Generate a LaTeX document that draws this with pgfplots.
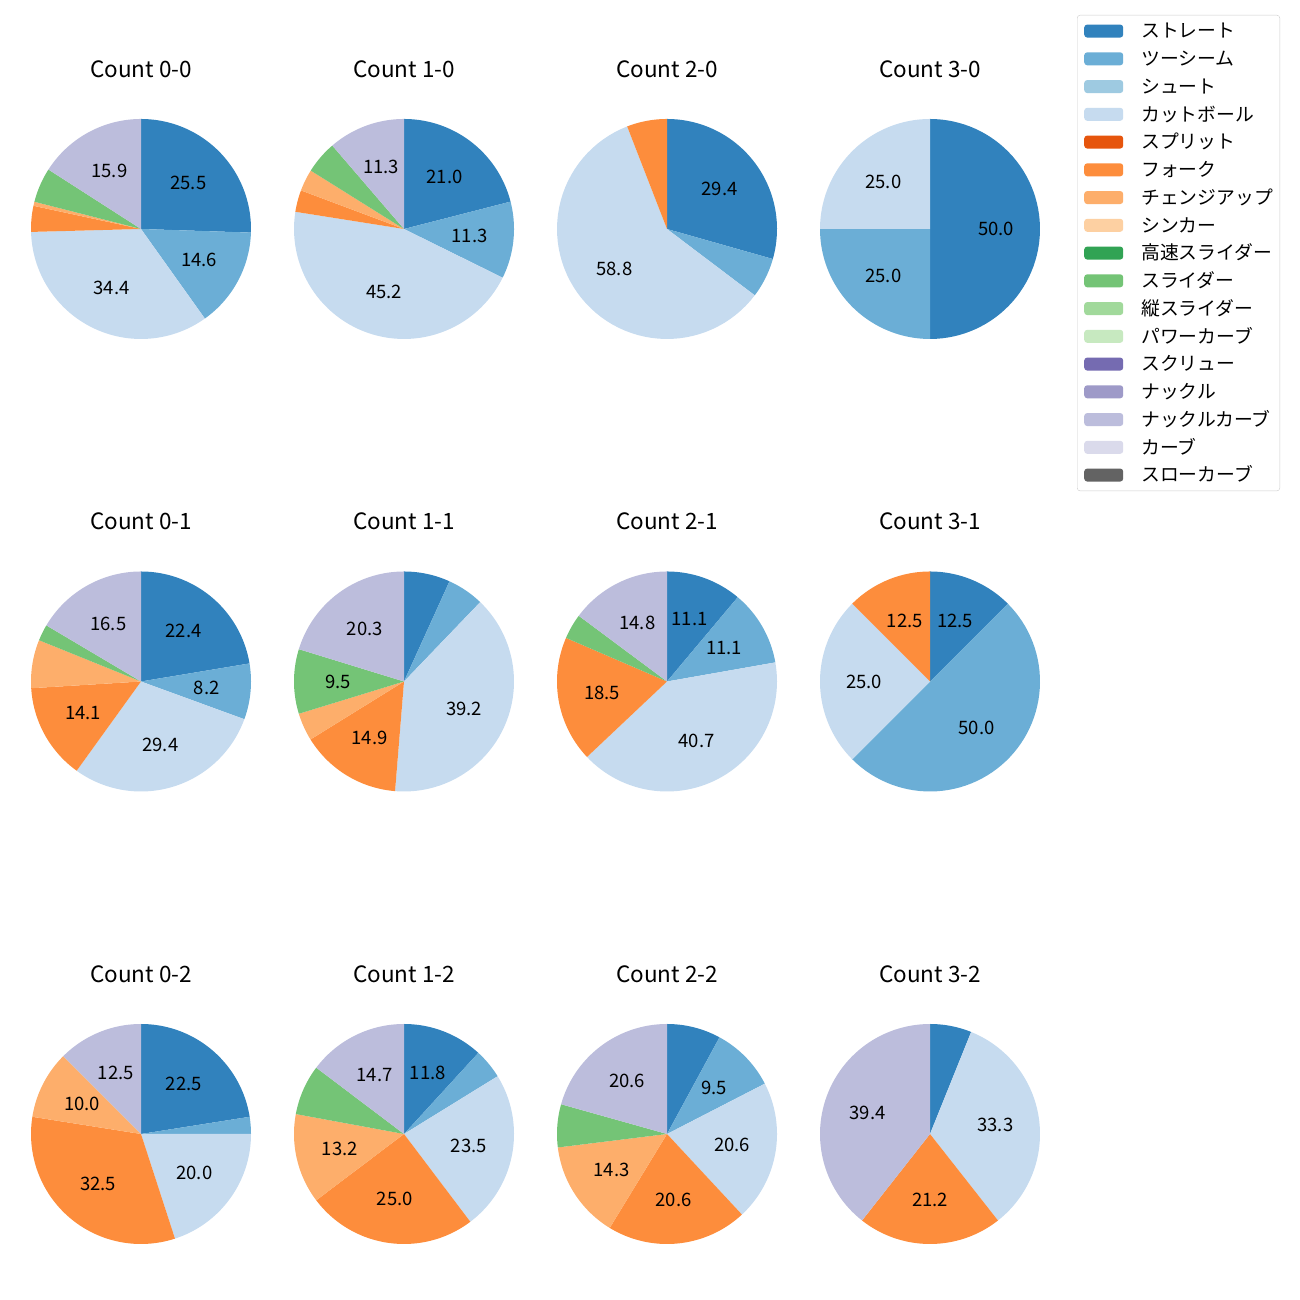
\documentclass[border=0pt]{standalone}
\usepackage{fontspec}
\setmainfont{Noto Sans CJK JP}
\usepackage{pgfplots}
\pgfplotsset{compat=1.18}

\definecolor{c1}{HTML}{3182BD}
\definecolor{c2}{HTML}{6BAED6}
\definecolor{c3}{HTML}{9ECAE1}
\definecolor{c4}{HTML}{C6DBEF}
\definecolor{c5}{HTML}{E6550D}
\definecolor{c6}{HTML}{FD8D3C}
\definecolor{c7}{HTML}{FDAE6B}
\definecolor{c8}{HTML}{FDD0A2}
\definecolor{c9}{HTML}{31A354}
\definecolor{c10}{HTML}{74C476}
\definecolor{c11}{HTML}{A1D99B}
\definecolor{c12}{HTML}{C7E9C0}
\definecolor{c13}{HTML}{756BB1}
\definecolor{c14}{HTML}{9E9AC8}
\definecolor{c15}{HTML}{BCBDDC}
\definecolor{c16}{HTML}{DADAEB}
\definecolor{c17}{HTML}{636363}

\newcommand\lblfont{\fontsize{18.5}{22}\selectfont}
\newcommand\titfont{\fontsize{22.5}{26}\selectfont}
\newcommand\legfont{\fontsize{18.8}{22}\selectfont}

\def\PIEsplit#1/#2\relax{\def\PIEc{#1}\def\PIEv{#2}}
% #1 = centre x, #2 = centre y (canvas px, y up), #3 = title, #4 = data
\newcommand\drawpie[4]{%
  \def\PIEtot{0}%
  \pgfplotsforeachungrouped \PIEitem in {#4}{%
    \expandafter\PIEsplit\PIEitem\relax
    \pgfmathsetmacro\PIEtot{\PIEtot+\PIEv}%
  }%
  \def\PIEcum{0}%
  \pgfplotsforeachungrouped \PIEitem in {#4}{%
    \expandafter\PIEsplit\PIEitem\relax
    \pgfmathsetmacro\PIEfa{(\PIEcum+\PIEv)/\PIEtot}%
    \pgfmathsetmacro\PIEfb{\PIEcum/\PIEtot}%
    \pgfmathsetmacro\PIEa{90-360*\PIEfa}%
    \pgfmathsetmacro\PIEb{90-360*\PIEfb}%
    \pgfmathsetmacro\PIEmid{(\PIEa+\PIEb)/2}%
    \pgfmathsetmacro\PIElx{#1+66*cos(\PIEmid)}%
    \pgfmathsetmacro\PIEly{#2+66*sin(\PIEmid)}%
    \edef\PIEcmd{\noexpand\addplot[fill=\PIEc,draw=none,samples=60,domain=\PIEa:\PIEb,variable=\noexpand\t] ({#1+110*cos(\noexpand\t)},{#2+110*sin(\noexpand\t)}) -- (axis cs:#1,#2) -- cycle;}%
    \PIEcmd
    \ifdim\PIEv pt<8pt\else
      \edef\PIEcmd{\noexpand\node[font=\noexpand\lblfont] at (axis cs:\PIElx,\PIEly) {\PIEv};}%
      \PIEcmd
    \fi
    \pgfmathsetmacro\PIEcum{\PIEcum+\PIEv}%
  }%
  \pgfmathsetmacro\PIEty{#2+160}%
  \edef\PIEcmd{\noexpand\node[font=\noexpand\titfont] at (axis cs:#1,\PIEty) {#3};}%
  \PIEcmd
}

\begin{document}
\begin{tikzpicture}
\begin{axis}[scale only axis, width=1300pt, height=1300pt,
  hide axis, clip=false, xmin=0, xmax=1300, ymin=0, ymax=1300,
  legend image code/.code={\path[draw=none,fill=none] (0pt,-13.875pt) rectangle (57pt,13.875pt);
     \fill[#1,draw=none] (0pt,-6.5pt) rectangle (39pt,6.5pt);},
  legend cell align=left,
  legend style={at={(0.82846,0.98846)}, anchor=north west, draw=black!20, rounded corners=3pt,
     fill=white, font=\legfont, inner xsep=7pt, inner ysep=2pt, row sep=0pt,
     cells={anchor=west},
     nodes={inner sep=0pt, text height=13.7pt, text depth=0pt}}]
\path[draw=none,fill=none] (axis cs:0,0) rectangle (axis cs:1300,1300);
\addlegendimage{fill=c1}\addlegendentry{ストレート}
\addlegendimage{fill=c2}\addlegendentry{ツーシーム}
\addlegendimage{fill=c3}\addlegendentry{シュート}
\addlegendimage{fill=c4}\addlegendentry{カットボール}
\addlegendimage{fill=c5}\addlegendentry{スプリット}
\addlegendimage{fill=c6}\addlegendentry{フォーク}
\addlegendimage{fill=c7}\addlegendentry{チェンジアップ}
\addlegendimage{fill=c8}\addlegendentry{シンカー}
\addlegendimage{fill=c9}\addlegendentry{高速スライダー}
\addlegendimage{fill=c10}\addlegendentry{スライダー}
\addlegendimage{fill=c11}\addlegendentry{縦スライダー}
\addlegendimage{fill=c12}\addlegendentry{パワーカーブ}
\addlegendimage{fill=c13}\addlegendentry{スクリュー}
\addlegendimage{fill=c14}\addlegendentry{ナックル}
\addlegendimage{fill=c15}\addlegendentry{ナックルカーブ}
\addlegendimage{fill=c16}\addlegendentry{カーブ}
\addlegendimage{fill=c17}\addlegendentry{スローカーブ}

% Row 1
\drawpie{141}{1071}{Count 0-0}{c1/25.5, c2/14.6, c4/34.4, c6/3.8, c7/0.6, c10/5.1, c15/15.9}
\drawpie{404}{1071}{Count 1-0}{c1/21.0, c2/11.3, c4/45.2, c6/3.2, c7/3.2, c10/4.8, c15/11.3}
\drawpie{667}{1071}{Count 2-0}{c1/29.4, c2/5.9, c4/58.8, c6/5.9}
\drawpie{930}{1071}{Count 3-0}{c1/50.0, c2/25.0, c4/25.0}
% Row 2
\drawpie{141}{618.5}{Count 0-1}{c1/22.4, c2/8.2, c4/29.4, c6/14.1, c7/7.1, c10/2.4, c15/16.5}
\drawpie{404}{618.5}{Count 1-1}{c1/6.8, c2/5.4, c4/39.2, c6/14.9, c7/4.1, c10/9.5, c15/20.3}
\drawpie{667}{618.5}{Count 2-1}{c1/11.1, c2/11.1, c4/40.7, c6/18.5, c10/3.7, c15/14.8}
\drawpie{930}{618.5}{Count 3-1}{c1/12.5, c2/50.0, c4/25.0, c6/12.5}
% Row 3
\drawpie{141}{166}{Count 0-2}{c1/22.5, c2/2.5, c4/20.0, c6/32.5, c7/10.0, c15/12.5}
\drawpie{404}{166}{Count 1-2}{c1/11.8, c2/4.4, c4/23.5, c6/25.0, c7/13.2, c10/7.4, c15/14.7}
\drawpie{667}{166}{Count 2-2}{c1/7.9, c2/9.5, c4/20.6, c6/20.6, c7/14.3, c10/6.3, c15/20.6}
\drawpie{930}{166}{Count 3-2}{c1/6.1, c4/33.3, c6/21.2, c15/39.4}
\end{axis}
\end{tikzpicture}
\end{document}
